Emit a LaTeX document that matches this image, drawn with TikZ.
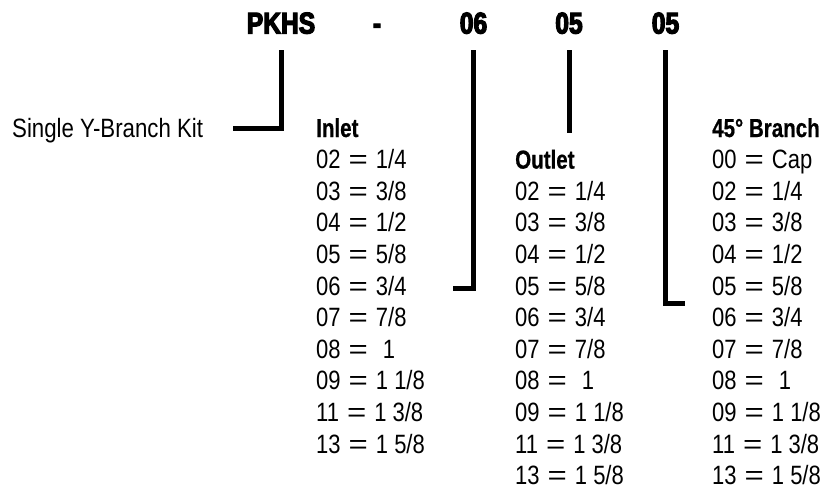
\documentclass[tikz,border=0pt]{standalone}
\usepackage{fontspec}
\usepackage{graphicx}
\setmainfont{Liberation Sans}
\newfontfamily\rowfont[FakeStretch=0.83]{Liberation Sans}
\newfontfamily\labelfont[FakeStretch=0.84]{Liberation Sans}
\newfontface\headfont[FakeStretch=0.79,FakeBold=0.6]{Liberation Sans Bold}
\newfontface\titlefont[FakeStretch=0.82,FakeBold=4]{Liberation Sans Bold}
\newcommand\eqq{\hspace{8pt}\scalebox{1.5}[1]{=}\hspace{8pt}}
\begin{document}
\begin{tikzpicture}[x=1pt,y=-1pt,
  titletxt/.style={inner sep=0pt,anchor=base,font=\titlefont\fontsize{30}{32}\selectfont},
  headtxt/.style={inner sep=0pt,anchor=base west,font=\headfont\fontsize{26}{30}\selectfont},
  rowtxt/.style={inner sep=0pt,anchor=base west,font=\rowfont\fontsize{26.5}{30}\selectfont},
  labeltxt/.style={inner sep=0pt,anchor=base west,font=\labelfont\fontsize{26.5}{30}\selectfont},
  conn/.style={line width=5pt,line join=miter,black}]
\useasboundingbox[fill=white] (0,0) rectangle (831,491);
% title code
\node[titletxt] (pk)  at (281,33.5) {PKHS};
\node[titletxt] (dash) at (377,33.5) {-};
\node[titletxt] (c06) at (473.5,33.5) {06};
\node[titletxt] (c05a) at (569,33.5) {05};
\node[titletxt] (c05b) at (665.5,33.5) {05};
% label
\node[labeltxt] (kit) at (12,137) {Single Y-Branch Kit};
% headers
\node[headtxt] (inh) at (316,137) {Inlet};
\node[headtxt] (outh) at (515,168.6) {Outlet};
\node[headtxt] (brh) at (712,137) {45° Branch};
% rows
\foreach \t [count=\k] in {{02\eqq 1/4},{03\eqq 3/8},{04\eqq 1/2},{05\eqq 5/8},{06\eqq 3/4},{07\eqq 7/8},{08\eqq\hspace{7pt}1},{09\eqq 1 1/8},{11\eqq 1 3/8},{13\eqq 1 5/8}}{
  \node[rowtxt,name=in\k] at (316,137+\k*31.6) {\t};
  \node[rowtxt,name=out\k] at (515,168.6+\k*31.6) {\t};
}
\foreach \t [count=\k] in {{00\eqq Cap},{02\eqq 1/4},{03\eqq 3/8},{04\eqq 1/2},{05\eqq 5/8},{06\eqq 3/4},{07\eqq 7/8},{08\eqq\hspace{7pt}1},{09\eqq 1 1/8},{11\eqq 1 3/8},{13\eqq 1 5/8}}{
  \node[rowtxt,name=br\k] at (712,137+\k*31.6) {\t};
}
% connectors
\coordinate (top) at (0,50);
\coordinate (kitend) at (233,128);
\coordinate (inend) at (453,288);
\coordinate (outend) at (0,133);
\coordinate (brend) at (685,303);
\draw[conn] (pk |- top) -- (pk |- kitend) -- (kitend);
\draw[conn] (c06 |- top) -- (c06 |- inend) -- (inend);
\draw[conn] (c05a |- top) -- (c05a |- outend);
\draw[conn] (c05b |- top) -- (c05b |- brend) -- (brend);
\end{tikzpicture}
\end{document}
